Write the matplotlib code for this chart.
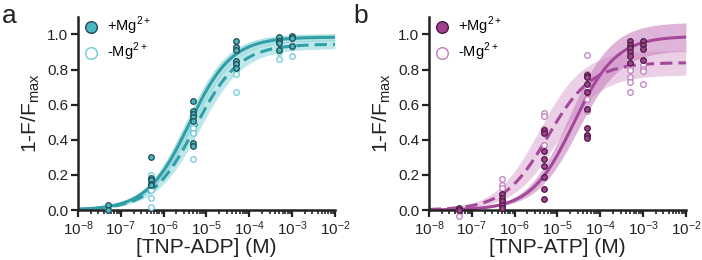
import numpy as np
import matplotlib
matplotlib.use("Agg")
import matplotlib.pyplot as plt
from matplotlib.ticker import LogLocator, NullFormatter

plt.rcParams['font.family'] = ['Liberation Sans', 'DejaVu Sans']
plt.rcParams['mathtext.fontset'] = 'custom'
plt.rcParams['mathtext.rm'] = 'Liberation Sans'

# ---- data: panel a (TNP-ADP) ----
adp_mg_x = [5e-8, 5e-8, 5e-7, 5e-7, 5e-7, 5e-7, 5e-7,
            5e-6, 5e-6, 5e-6, 5e-6, 5e-6, 5e-6, 5e-6,
            5e-5, 5e-5, 5e-5, 5e-5, 5e-5, 5e-5,
            5e-4, 5e-4, 5e-4, 5e-4, 1e-3, 1e-3, 1e-3]
adp_mg_y = [0.03, 0.0, 0.30, 0.18, 0.17, 0.15, 0.14,
            0.62, 0.565, 0.545, 0.53, 0.51, 0.38, 0.365,
            0.96, 0.93, 0.91, 0.85, 0.83, 0.81,
            0.985, 0.965, 0.95, 0.91, 0.99, 0.98, 0.935]
adp_nomg_x = [5e-8, 5e-8, 5e-7, 5e-7, 5e-7, 5e-7, 5e-7,
              5e-6, 5e-6, 5e-6, 5e-6, 5e-5, 5e-5, 5e-5,
              5e-4, 5e-4, 1e-3, 1e-3]
adp_nomg_y = [0.0, 0.01, 0.20, 0.17, 0.115, 0.067, 0.02,
              0.49, 0.47, 0.44, 0.29, 0.80, 0.775, 0.67,
              0.90, 0.86, 0.93, 0.875]

# ---- data: panel b (TNP-ATP) ----
atp_mg_x = [5e-8, 5e-8, 5e-7, 5e-7, 5e-7, 5e-7, 5e-7,
            5e-6, 5e-6, 5e-6, 5e-6, 5e-6, 5e-6, 5e-6, 5e-6,
            5e-5, 5e-5, 5e-5, 5e-5, 5e-5, 5e-5, 5e-5, 5e-5,
            5e-4, 5e-4, 5e-4, 5e-4, 5e-4, 5e-4,
            1e-3, 1e-3, 1e-3, 1e-3]
atp_mg_y = [0.01, 0.0, 0.09, 0.07, 0.05, 0.03, 0.01,
            0.455, 0.44, 0.335, 0.29, 0.25, 0.19, 0.12, 0.065,
            0.77, 0.755, 0.72, 0.67, 0.575, 0.47, 0.425, 0.41,
            0.96, 0.94, 0.925, 0.90, 0.88, 0.84,
            0.96, 0.94, 0.92, 0.855]
atp_nomg_x = [5e-8, 5e-8, 5e-7, 5e-7, 5e-7, 5e-7, 5e-7, 5e-7,
              5e-6, 5e-6, 5e-6, 5e-6,
              5e-5, 5e-5, 5e-5, 5e-5, 5e-5, 5e-5,
              5e-4, 5e-4, 5e-4, 5e-4, 5e-4,
              1e-3, 1e-3, 1e-3, 1e-3]
atp_nomg_y = [-0.035, 0.0, 0.175, 0.145, 0.125, 0.085, 0.06, 0.03,
              0.555, 0.535, 0.46, 0.37,
              0.885, 0.775, 0.70, 0.635, 0.565, 0.43,
              0.815, 0.795, 0.755, 0.73, 0.67,
              0.825, 0.805, 0.79, 0.72]

# ---- Hill fit parameters: top, EC50, slope, band half-width (top, log EC50) ----
adp_mg_fit = [0.985, 4.0e-6, 0.88, 0.02, 0.08]
adp_nomg_fit = [0.945, 5.5e-6, 0.85, 0.025, 0.10]
atp_mg_fit = [0.99, 2.4e-5, 0.88, 0.08, 0.10]
atp_nomg_fit = [0.84, 6.0e-6, 0.85, 0.07, 0.20]


def hill(x, top, ec50, n):
    return top * x**n / (ec50**n + x**n)


def draw_fit(ax, fit, color, band_color, band_alpha, ls):
    top, ec50, n, dtop, dlog = fit
    xx = np.logspace(-8, -2, 300)
    yy = hill(xx, top, ec50, n)
    lo = np.minimum(hill(xx, top - dtop, ec50 * 10**dlog, n), hill(xx, top - dtop, ec50 / 10**dlog, n))
    hi = np.maximum(hill(xx, top + dtop, ec50 * 10**dlog, n), hill(xx, top + dtop, ec50 / 10**dlog, n))
    ax.fill_between(xx, lo, hi, color=band_color, alpha=band_alpha, lw=0)
    ax.plot(xx, yy, color=color, lw=2.2, ls=ls, dashes=(4, 2) if ls == '--' else (None, None))


fig = plt.figure(figsize=(7.02, 2.6), dpi=100)

panels = [
    (0.111, 'a', '[TNP-ADP] (M)', adp_mg_x, adp_mg_y, adp_nomg_x, adp_nomg_y,
     adp_mg_fit, adp_nomg_fit, '#2f9fa8', '#4db6c0', '#1d4a52', '#6ccbd6',
     '#7fcdd2', '#a9dfe2'),
    (0.611, 'b', '[TNP-ATP] (M)', atp_mg_x, atp_mg_y, atp_nomg_x, atp_nomg_y,
     atp_mg_fit, atp_nomg_fit, '#a5479a', '#a2428f', '#4a1a42', '#c27bbb',
     '#c983c0', '#e3c0de'),
]

for (left, letter, xlabel, mx, my, nx, ny, mfit, nfit,
     line_c, fill_c, edge_c, open_c, band1, band2) in panels:
    ax = fig.add_axes([left, 0.192, 0.366, 0.743])
    draw_fit(ax, nfit, line_c, band2, 0.75, '--')
    draw_fit(ax, mfit, line_c, band1, 0.6, '-')
    ax.scatter(nx, ny, s=16, facecolor='white', edgecolor=open_c, lw=0.9,
               zorder=4, clip_on=False)
    ax.scatter(mx, my, s=16, facecolor=fill_c, edgecolor=edge_c, lw=0.9,
               zorder=5, clip_on=False)

    # legend
    h1 = ax.scatter([], [], s=70, facecolor=fill_c, edgecolor=edge_c, lw=1.0)
    h2 = ax.scatter([], [], s=70, facecolor='white', edgecolor=open_c, lw=1.0)
    ax.legend([h1, h2], ['+Mg$^{2+}$', '-Mg$^{2+}$'], loc='upper left',
              frameon=False, fontsize=10.5, handletextpad=0.1,
              borderaxespad=0.0, borderpad=0.0, labelspacing=0.25,
              bbox_to_anchor=(-0.005, 1.01))

    ax.set_xscale('log')
    ax.set_xlim(1e-8, 1e-2)
    ax.set_ylim(0, 1.1)
    ax.set_yticks([0.0, 0.2, 0.4, 0.6, 0.8, 1.0])
    ax.set_yticklabels(['0.0', '0.2', '0.4', '0.6', '0.8', '1.0'])
    ax.xaxis.set_major_locator(LogLocator(base=10, numticks=10))
    ax.xaxis.set_minor_locator(LogLocator(base=10, subs=np.arange(2, 10), numticks=20))
    ax.xaxis.set_minor_formatter(NullFormatter())
    ax.tick_params(axis='both', which='major', labelsize=11, width=1.6, length=5,
                   color='#222222', labelcolor='#222222', pad=2)
    ax.tick_params(axis='x', which='minor', width=1.2, length=3, color='#222222')
    for s in ['top', 'right']:
        ax.spines[s].set_visible(False)
    for s in ['left', 'bottom']:
        ax.spines[s].set_linewidth(1.8)
        ax.spines[s].set_color('#222222')
    ax.set_xlabel(xlabel, fontsize=15, color='#222222', labelpad=0)
    ax.set_ylabel('1-F/F$_{\\mathrm{max}}$', fontsize=15, color='#222222', labelpad=4)
    fig.text(left - 0.108, 0.985, letter, fontsize=19, va='top', ha='left', color='#222222')

fig.savefig('out.png', dpi=100)
